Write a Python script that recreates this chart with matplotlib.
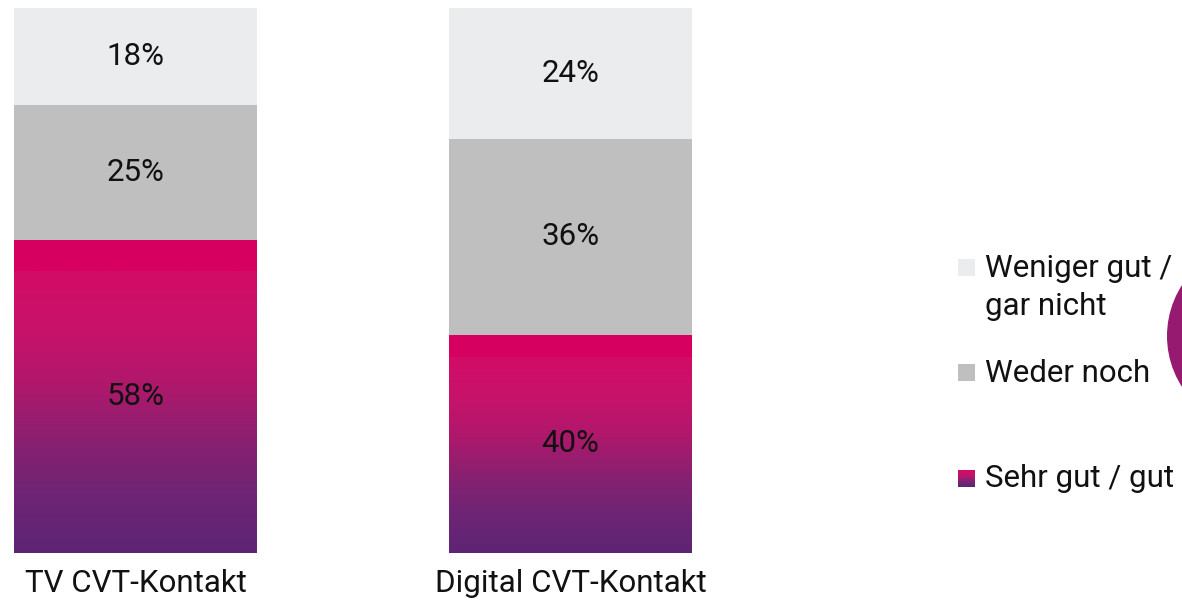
import matplotlib
import matplotlib.pyplot as plt
import numpy as np
from matplotlib.colors import LinearSegmentedColormap
from matplotlib.patches import Rectangle, Circle

matplotlib.use("Agg")
plt.rcParams['font.family'] = ['Roboto', 'DejaVu Sans']

categories = ["TV CVT-Kontakt", "Digital CVT-Kontakt"]
sehr_gut = [58, 40]
weder_noch = [25, 36]
weniger_gut = [18, 24]
legend_labels = ["Weniger gut /\ngar nicht", "Weder noch", "Sehr gut / gut"]

LIGHT = '#ebecee'
GREY = '#bfbfbf'
PINK_TOP = '#d50060'
grad = LinearSegmentedColormap.from_list(
    'pp', ['#5e2474', '#6e2575', '#8a2070', '#b0186c', '#c8126a', '#d20c66'])
FS = 22.5

W, H = 1182, 608
fig = plt.figure(figsize=(W / 100, H / 100), dpi=100)

# bar axes in pixel placement
left, right, top, bottom = 14, 692, 8, 553
ax = fig.add_axes([left / W, 1 - bottom / H, (right - left) / W, (bottom - top) / H])
bw = 0.5586
x = np.arange(len(categories))
ax.set_xlim(-bw / 2, 1 + bw / 2)
ax.set_ylim(0, 100)
ax.axis('off')

for i in range(len(categories)):
    tot = sehr_gut[i] + weder_noch[i] + weniger_gut[i]
    h1 = sehr_gut[i] / tot * 100
    h2 = weder_noch[i] / tot * 100
    h3 = weniger_gut[i] / tot * 100
    # gradient segment
    bars = ax.bar(x[i], h1, width=bw, color='none', linewidth=0)
    r = bars[0]
    x0 = x[i] - bw / 2
    img = np.linspace(0, 1, 256).reshape(-1, 1)
    im = ax.imshow(img, cmap=grad, aspect='auto', origin='lower',
                   extent=(x0, x0 + bw, 0, h1 * 0.9), zorder=1)
    im.set_clip_path(r)
    ax.bar(x[i], h1 * 0.1, bottom=h1 * 0.9, width=bw, color=PINK_TOP, linewidth=0, zorder=2)
    ax.bar(x[i], h2, bottom=h1, width=bw, color=GREY, linewidth=0, zorder=2)
    ax.bar(x[i], h3, bottom=h1 + h2, width=bw, color=LIGHT, linewidth=0, zorder=2)
    for val, b, h in [(sehr_gut[i], 0, h1), (weder_noch[i], h1, h2), (weniger_gut[i], h1 + h2, h3)]:
        ax.text(x[i], b + h / 2, f"{val}%", ha='center', va='center',
                fontsize=FS, color='#111111', zorder=3)

# overlay for category labels, legend and decorative circle
ov = fig.add_axes([0, 0, 1, 1], zorder=5)
ov.set_xlim(0, W)
ov.set_ylim(H, 0)
ov.axis('off')
ov.patch.set_alpha(0)

for i, cat in enumerate(categories):
    cx = left + (x[i] + bw / 2) / (1 + bw) * (right - left)
    ov.text(cx, 592, cat, ha='center', va='baseline', fontsize=FS, color='#111111')

ov.add_patch(Rectangle((958, 259), 17, 17, color=LIGHT, linewidth=0))
l1, l2 = legend_labels[0].split('\n')
ov.text(985, 277, l1, ha='left', va='baseline', fontsize=FS, color='#111111')
ov.text(985, 315, l2, ha='left', va='baseline', fontsize=FS, color='#111111')
ov.add_patch(Rectangle((958, 364), 17, 17, color=GREY, linewidth=0))
ov.text(985, 382, legend_labels[1], ha='left', va='baseline', fontsize=FS, color='#111111')
sq = Rectangle((958, 470), 17, 17, facecolor='none', linewidth=0)
ov.add_patch(sq)
im2 = ov.imshow(np.linspace(1, 0, 64).reshape(-1, 1), cmap=grad, aspect='auto',
                extent=(958, 975, 487, 470), origin='upper')
im2.set_clip_path(sq)
ov.text(985, 487, legend_labels[2], ha='left', va='baseline', fontsize=FS, color='#111111')

ov.add_patch(Circle((1261, 336), 94, color='#961a70', linewidth=0))
ov.set_xlim(0, W)
ov.set_ylim(H, 0)

fig.savefig('out.png', dpi=100)
